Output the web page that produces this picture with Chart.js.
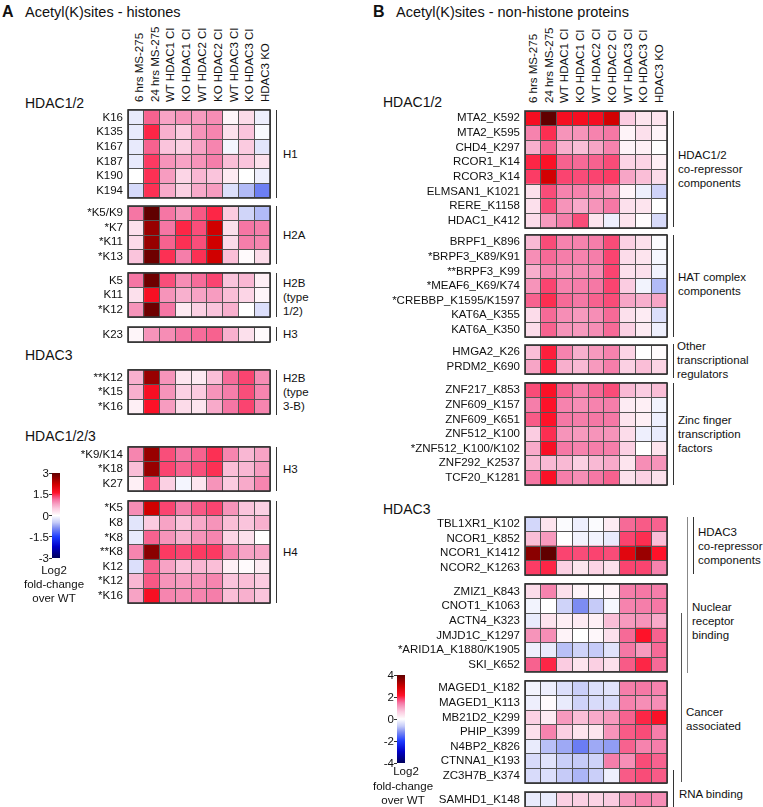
<!DOCTYPE html>
<html>
<head>
<meta charset="utf-8">
<script src="https://cdn.jsdelivr.net/npm/chart.js@4.4.0/dist/chart.umd.min.js"></script>
<style>
  body { margin: 0; background: #fff; }
  #page { position: relative; width: 763px; height: 807px; overflow: hidden;
          font-family: "Liberation Sans", Arial, Helvetica, sans-serif; color: #111; }
  #page canvas { position: absolute; }
  .t { position: absolute; white-space: nowrap; line-height: 14px; }
  .br { position: absolute; width: 0; border-left: 1.4px solid #333; }
</style>
</head>
<body>
<div id="page"></div>
<script>
// conditions (columns), same for both panels
const columns = ['6 hrs MS-275', '24 hrs MS-275', 'WT HDAC1 CI', 'KO HDAC1 CI', 'WT HDAC2 CI',
                 'KO HDAC2 CI', 'WT HDAC3 CI', 'KO HDAC3 CI', 'HDAC3 KO'];

// ---------- A: histones (log2 fold-change, scale -3..3) ----------
const h1Sites = ['K16', 'K135', 'K167', 'K187', 'K190', 'K194'];
const h1Values = [
  [-0.2, 1.2, 0.8, 0.9, 0.85, 0.95, 0.1, 0.35, -0.15],
  [-0.2, 1.5, 0.7, 0.5, 0.9, 1.0, 0.3, 0.55, -0.05],
  [-0.2, 1.2, 0.55, 0.45, 0.8, 1.0, -0.1, 0.5, -0.25],
  [-0.2, 1.4, 0.9, 0.8, 0.9, 1.05, 0.6, 0.55, 0.3],
  [0.0, 1.45, 0.85, 0.4, 0.65, 0.55, 0.2, 0.0, -0.15],
  [-0.35, 1.45, 0.75, 0.45, 0.75, 0.85, -0.3, -0.6, -1.0]
];
const h2aSites = ['*K5/K9', '*K7', '*K11', '*K13'];
const h2aValues = [
  [1.1, 3.0, 1.1, 0.9, 1.25, 1.5, 0.5, -0.4, -0.6],
  [0.3, 2.6, 1.1, 1.5, 1.3, 2.2, 0.3, 1.1, 1.05],
  [0.35, 2.6, 1.2, 1.45, 1.3, 2.2, 0.35, 1.05, 1.0],
  [0.55, 2.9, 1.45, 1.05, 1.45, 2.2, 0.6, 0.05, 0.35]
];
const h2bSites = ['K5', 'K11', '*K12'];
const h2bValues = [
  [1.1, 2.9, 1.3, 0.95, 1.15, 1.35, 0.55, 0.65, 0.15],
  [0.3, 1.7, 0.9, 0.7, 0.8, 0.85, 0.6, 0.4, 0.1],
  [0.9, 2.9, 1.1, 0.2, 0.45, 0.55, 0.7, 0.0, -0.3]
];
const h3aSites = ['K23'];
const h3aValues = [
  [0.1, 0.9, 0.95, 1.1, 1.15, 1.2, 0.7, 0.3, 0.05]
];
const h2b3Sites = ['**K12', '*K15', '*K16'];
const h2b3Values = [
  [0.7, 2.6, 0.9, 0.25, 0.2, 0.6, 1.15, 1.35, 0.95],
  [0.7, 1.7, 0.9, 0.45, 0.5, 0.9, 1.05, 1.3, 1.0],
  [0.15, 1.65, 0.85, 0.35, 0.25, 0.75, 1.1, 1.35, 1.0]
];
const h3bSites = ['*K9/K14', '*K18', 'K27'];
const h3bValues = [
  [1.0, 2.6, 1.3, 1.1, 1.2, 1.45, 1.0, 0.65, 0.8],
  [0.6, 2.6, 1.35, 1.2, 1.3, 1.45, 0.6, 0.65, 0.85],
  [0.15, 1.3, 0.45, -0.1, 0.25, 0.9, 0.5, 0.75, 1.0]
];
const h4Sites = ['*K5', 'K8', '*K8', '**K8', 'K12', '*K12', '*K16'];
const h4Values = [
  [0.95, 2.2, 1.35, 1.05, 1.25, 1.35, 0.9, 0.55, 0.45],
  [-0.25, 0.5, 0.8, 0.55, 0.75, 0.9, 0.6, 0.55, 0.7],
  [-0.2, 1.2, 0.9, 0.7, 0.9, 1.0, 0.4, 0.3, 0.0],
  [1.0, 2.7, 1.4, 1.35, 1.4, 1.4, 1.0, 0.8, 0.8],
  [-0.3, 1.2, 0.8, 0.55, 0.65, 0.6, 0.15, 0.05, 0.2],
  [0.65, 1.25, 0.9, 0.85, 0.9, 1.0, 0.55, 0.6, 0.5],
  [0.8, 1.7, 1.0, 0.95, 1.0, 1.05, 0.6, 0.7, 0.55]
];

// ---------- B: non-histone proteins (log2 fold-change, scale -4..4) ----------
const coRepSites = ['MTA2_K592', 'MTA2_K595', 'CHD4_K297', 'RCOR1_K14', 'RCOR3_K14',
                    'ELMSAN1_K1021', 'RERE_K1158', 'HDAC1_K412'];
const coRepValues = [
  [2.3, 4.0, 2.3, 2.3, 2.3, 2.9, 0.65, 0.35, 0.35],
  [1.35, 1.95, 1.2, 1.2, 1.35, 1.45, 0.15, 0.4, 0.15],
  [0.95, 1.6, 0.95, 0.8, 1.05, 1.35, 0.15, 0.2, 0.0],
  [2.0, 2.2, 1.6, 1.55, 1.6, 1.75, 0.55, 0.55, 0.2],
  [1.85, 2.9, 1.8, 1.75, 1.8, 1.85, 1.05, 0.8, 0.45],
  [0.4, 1.75, 1.35, 1.35, 1.2, 1.15, 0.15, -0.2, -0.55],
  [0.4, 1.75, 1.2, 1.0, 1.2, 1.45, 0.4, 0.35, 0.0],
  [0.45, 1.15, 1.4, 1.75, 0.35, -0.2, 0.35, 0.05, -0.45]
];
const hatSites = ['BRPF1_K896', '*BRPF3_K89/K91', '**BRPF3_K99', '*MEAF6_K69/K74',
                  '*CREBBP_K1595/K1597', 'KAT6A_K355', 'KAT6A_K350'];
const hatValues = [
  [0.85, 1.75, 1.35, 1.35, 1.4, 1.75, 0.6, 0.4, -0.05],
  [1.25, 1.55, 1.4, 1.35, 1.4, 1.8, 0.45, 0.35, -0.1],
  [0.95, 1.35, 1.2, 1.25, 1.25, 1.8, 0.4, 0.4, -0.15],
  [1.2, 1.8, 1.35, 1.4, 1.45, 1.8, 0.65, -0.15, -0.8],
  [1.6, 1.95, 1.55, 1.45, 1.6, 1.75, 1.05, 0.95, 1.05],
  [0.45, 1.55, 1.25, 1.15, 1.25, 1.55, 0.4, 0.25, -0.4],
  [0.45, 1.6, 1.2, 1.15, 1.25, 1.55, 0.6, 0.25, -0.2]
];
const otherSites = ['HMGA2_K26', 'PRDM2_K690'];
const otherValues = [
  [0.8, 2.05, 1.35, 0.95, 1.15, 1.35, 0.55, 0.0, 0.05],
  [1.05, 2.05, 0.95, 0.85, 1.15, 1.4, 0.6, 0.8, 0.55]
];
const zincSites = ['ZNF217_K853', 'ZNF609_K157', 'ZNF609_K651', 'ZNF512_K100',
                   '*ZNF512_K100/K102', 'ZNF292_K2537', 'TCF20_K1281'];
const zincValues = [
  [1.75, 2.2, 1.6, 1.35, 1.55, 1.75, 0.85, 0.65, 0.8],
  [1.4, 2.15, 1.35, 1.25, 1.35, 1.4, 0.25, 0.2, -0.15],
  [1.65, 2.15, 1.45, 1.4, 1.45, 1.45, 0.35, 0.2, -0.2],
  [0.65, 1.95, 1.2, 1.15, 1.2, 1.2, 0.45, -0.2, -0.25],
  [1.0, 2.25, 1.45, 1.35, 1.4, 1.4, 0.6, 0.0, 0.35],
  [0.85, 0.85, 0.85, 0.6, 0.85, 1.0, 0.35, 1.25, 1.2],
  [1.45, 2.2, 1.4, 1.25, 1.45, 1.6, 0.4, 0.6, 0.4]
];
const hdac3RepSites = ['TBL1XR1_K102', 'NCOR1_K852', 'NCOR1_K1412', 'NCOR2_K1263'];
const hdac3RepValues = [
  [-0.5, 0.35, -0.05, -0.2, -0.05, 0.25, 1.55, 1.65, 1.6],
  [0.8, 1.15, 0.0, -0.15, -0.15, -0.25, 1.8, 1.95, 0.8],
  [3.6, 4.0, 1.8, 1.75, 1.8, 1.75, 2.65, 3.45, 2.15],
  [1.85, 2.0, 0.6, 0.35, 0.55, 0.4, 1.8, 1.8, 1.35]
];
const nuclearSites = ['ZMIZ1_K843', 'CNOT1_K1063', 'ACTN4_K323', 'JMJD1C_K1297',
                      '*ARID1A_K1880/K1905', 'SKI_K652'];
const nuclearValues = [
  [0.45, 1.35, 0.4, 0.15, 0.05, 0.15, 1.4, 1.45, 1.4],
  [-0.15, 0.0, -0.55, -1.2, -0.65, -0.1, 1.35, 1.4, 1.45],
  [-0.25, 0.35, 0.2, 0.25, 0.2, 0.8, 1.15, 1.2, 1.0],
  [1.2, 1.25, 0.15, 0.0, 0.1, 0.4, 1.55, 2.15, 1.6],
  [-0.2, -0.25, -0.75, -0.55, -0.65, -0.35, 1.45, 1.15, 1.55],
  [1.6, 2.0, 0.65, 0.35, 0.6, 0.4, 1.65, 2.0, 1.55]
];
const cancerSites = ['MAGED1_K182', 'MAGED1_K113', 'MB21D2_K299', 'PHIP_K399',
                     'N4BP2_K826', 'CTNNA1_K193', 'ZC3H7B_K374'];
const cancerValues = [
  [-0.15, -0.2, -0.4, -0.6, -0.4, -0.35, 1.4, 1.45, 1.35],
  [-0.2, 0.05, -0.25, -0.55, -0.45, -0.45, 1.35, 1.25, 1.25],
  [0.6, 0.25, 1.15, 0.8, 1.0, 1.15, 1.6, 2.0, 2.2],
  [0.4, 1.35, 0.6, 0.35, 0.35, 1.2, 1.65, 1.75, 1.4],
  [-0.25, -0.75, -0.95, -1.35, -0.95, -1.05, 1.6, 1.35, 1.4],
  [-0.45, -0.35, -0.6, -0.65, -0.55, 1.4, 1.25, 1.75, 1.6],
  [-0.45, -0.4, -0.65, -0.85, -0.6, -0.2, 1.65, 1.75, 1.65]
];
const rnaSites = ['SAMHD1_K148'];
const rnaValues = [
  [-0.25, -0.25, 0.6, 0.6, 0.55, 0.65, 1.15, 1.35, 1.25]
];

const legendTicksA = [3, 1.5, 0, -1.5, -3];
const legendTicksB = [4, 2, 0, -2, -4];

// colour map, stops given on a -3..3 scale
const STOPS = [
  [-3, [0, 0, 90]], [-2.2, [0, 0, 200]], [-1.5, [30, 60, 255]], [-0.9, [125, 140, 242]],
  [-0.5, [196, 202, 248]], [-0.2, [232, 234, 252]], [0, [255, 255, 255]], [0.2, [253, 234, 242]],
  [0.5, [251, 203, 224]], [0.8, [247, 163, 197]], [1.1, [245, 118, 164]], [1.35, [250, 68, 112]],
  [1.6, [255, 18, 42]], [2.2, [208, 0, 0]], [3, [96, 0, 0]]
];
function heatColor(v, vmax) {
  const x = Math.max(-3, Math.min(3, v * 3 / vmax));
  for (let i = 1; i < STOPS.length; i++) {
    if (x <= STOPS[i][0]) {
      const [x0, c0] = STOPS[i - 1], [x1, c1] = STOPS[i];
      const f = (x - x0) / (x1 - x0);
      const c = c0.map((a, k) => Math.round(a + (c1[k] - a) * f));
      return `rgb(${c[0]},${c[1]},${c[2]})`;
    }
  }
  return 'rgb(96,0,0)';
}

const FONT = '"Liberation Sans", Arial, Helvetica, sans-serif';
Chart.defaults.font.family = FONT;
Chart.defaults.font.size = 11.5;
Chart.defaults.color = '#111';

const page = document.getElementById('page');
const ROW_H = 14.6;

// thicker outer frame round each block
const framePlugin = {
  id: 'frame',
  afterDraw(chart) {
    const { ctx, chartArea: a } = chart;
    ctx.save();
    ctx.strokeStyle = '#333';
    ctx.lineWidth = 1.6;
    ctx.strokeRect(a.left, a.top, a.right - a.left, a.bottom - a.top);
    ctx.restore();
  }
};

function heatmap(o) {
  const areaH = Math.round(o.sites.length * ROW_H);
  const cv = document.createElement('canvas');
  cv.width = o.right + 2 - o.left;
  cv.height = 1 + areaH + 2;
  cv.style.left = o.left + 'px';
  cv.style.top = (o.top - 1) + 'px';
  page.appendChild(cv);

  const datasets = columns.map((col, c) => ({
    label: col,
    data: o.values.map(() => [c, c + 1]),
    backgroundColor: o.values.map(row => heatColor(row[c], o.vmax)),
    borderWidth: 0,
    barPercentage: 1,
    categoryPercentage: 1,
    grouped: false
  }));

  const chart = new Chart(cv, {
    type: 'bar',
    data: { labels: o.sites, datasets },
    options: {
      indexAxis: 'y',
      responsive: false,
      animation: false,
      layout: { padding: { top: 1, right: 2, bottom: 2, left: 0 } },
      plugins: { legend: { display: false }, tooltip: { enabled: false } },
      scales: {
        x: {
          type: 'linear', min: 0, max: columns.length, position: 'bottom',
          ticks: { display: false, stepSize: 1 },
          grid: { color: '#555', z: 1, drawTicks: false },
          border: { display: false },
          afterFit(s) { s.height = 0; s.paddingLeft = 0; s.paddingRight = 0; }
        },
        y: {
          type: 'category', position: 'left', offset: true,
          ticks: { autoSkip: false, padding: 5, color: '#111' },
          grid: { color: '#555', z: 1, drawTicks: false, offset: true },
          border: { display: false },
          afterFit(s) { s.width = o.labelW; s.paddingTop = 0; s.paddingBottom = 0; }
        }
      }
    },
    plugins: [framePlugin]
  });

  // column headers, placed at the column centres of the x scale
  if (o.header) {
    const xs = chart.scales.x;
    columns.forEach((col, c) =>
      vtext(o.left + xs.getPixelForValue(c + 0.5) + (o.headShift || 0), o.top - 8, col));
  }
}

// helpers for plain text / bracket lines
function text(x, y, s, opt = {}) {
  const d = document.createElement('div');
  d.className = 't';
  d.textContent = s;
  d.style.fontSize = (opt.size || 11.5) + 'px';
  if (opt.bold) d.style.fontWeight = 'bold';
  d.style.top = (y - 7) + 'px';
  if (opt.align === 'right') d.style.right = (763 - x) + 'px';
  else if (opt.align === 'center') { d.style.left = (x - 60) + 'px'; d.style.width = '120px'; d.style.textAlign = 'center'; }
  else d.style.left = x + 'px';
  page.appendChild(d);
}
function vtext(x, yBottom, s) {
  const d = document.createElement('div');
  d.className = 't';
  d.textContent = s;
  d.style.fontSize = '11.5px';
  d.style.left = x + 'px';
  d.style.top = (yBottom - 7) + 'px';
  d.style.transformOrigin = '0 50%';
  d.style.transform = 'rotate(-90deg)';
  page.appendChild(d);
}
function bracket(x, y1, y2, color) {
  const d = document.createElement('div');
  d.className = 'br';
  d.style.left = x + 'px';
  d.style.top = y1 + 'px';
  d.style.height = (y2 - y1) + 'px';
  if (color) d.style.borderLeftColor = color;
  page.appendChild(d);
}
function lines(x, y, arr) { arr.forEach((s, i) => text(x, y + i * 14, s)); }

function colorbar(x, y1, y2, ticks, vmax) {
  const bar = document.createElement('div');
  const stops = STOPS.slice().reverse().map(([v, c]) =>
    `rgb(${c[0]},${c[1]},${c[2]}) ${((3 - v) / 6 * 100).toFixed(1)}%`).join(',');
  Object.assign(bar.style, { position: 'absolute', left: x + 'px', top: y1 + 'px', width: '8px',
    height: (y2 - y1) + 'px', background: `linear-gradient(to bottom, ${stops})` });
  page.appendChild(bar);
  ticks.forEach(v => {
    const y = y1 + (vmax - v) / (2 * vmax) * (y2 - y1);
    const tk = document.createElement('div');
    Object.assign(tk.style, { position: 'absolute', left: (x - 3) + 'px', top: (y - 0.5) + 'px',
      width: '3px', height: '1px', background: '#333' });
    page.appendChild(tk);
    text(x - 3, y, String(v), { align: 'right' });
  });
}

// ---------- panel A ----------
text(2, 12, 'A', { size: 16, bold: true });
text(25, 12, 'Acetyl(K)sites - histones', { size: 14.5 });
text(25, 103, 'HDAC1/2', { size: 14 });
text(25, 355, 'HDAC3', { size: 14 });
text(25, 436, 'HDAC1/2/3', { size: 14 });

const A = { left: 0, labelW: 128, right: 270, vmax: 3 };
heatmap({ ...A, top: 110, sites: h1Sites, values: h1Values, header: true, headShift: 3 });
heatmap({ ...A, top: 206, sites: h2aSites, values: h2aValues });
heatmap({ ...A, top: 273, sites: h2bSites, values: h2bValues });
heatmap({ ...A, top: 327, sites: h3aSites, values: h3aValues });
heatmap({ ...A, top: 370, sites: h2b3Sites, values: h2b3Values });
heatmap({ ...A, top: 447, sites: h3bSites, values: h3bValues });
heatmap({ ...A, top: 501, sites: h4Sites, values: h4Values });

bracket(276, 110, 198); text(283, 154, 'H1');
bracket(276, 206, 264); text(283, 235, 'H2A');
bracket(276, 273, 317); lines(283, 283, ['H2B', '(type', '1/2)']);
bracket(276, 327, 341); text(283, 334, 'H3');
bracket(276, 370, 415); lines(283, 378, ['H2B', '(type', '3-B)']);
bracket(276, 447, 491); text(283, 469, 'H3');
bracket(276, 501, 603); text(283, 552, 'H4');

colorbar(52, 473, 558, legendTicksA, 3);
text(54, 570, 'Log2', { align: 'center' });
text(54, 584, 'fold-change', { align: 'center' });
text(54, 598, 'over WT', { align: 'center' });

// ---------- panel B ----------
text(373, 12, 'B', { size: 16, bold: true });
text(396, 12, 'Acetyl(K)sites - non-histone proteins', { size: 14.5 });
text(383, 102, 'HDAC1/2', { size: 14 });
text(383, 509, 'HDAC3', { size: 14 });

const B = { left: 372, labelW: 153, right: 667, vmax: 4 };
heatmap({ ...B, top: 111, sites: coRepSites, values: coRepValues, header: true });
heatmap({ ...B, top: 235, sites: hatSites, values: hatValues });
heatmap({ ...B, top: 345, sites: otherSites, values: otherValues });
heatmap({ ...B, top: 383, sites: zincSites, values: zincValues });
heatmap({ ...B, top: 517, sites: hdac3RepSites, values: hdac3RepValues });
heatmap({ ...B, top: 584, sites: nuclearSites, values: nuclearValues });
heatmap({ ...B, top: 681, sites: cancerSites, values: cancerValues });
heatmap({ ...B, top: 792, sites: rnaSites, values: rnaValues });

bracket(673, 111, 227); lines(678, 155, ['HDAC1/2', 'co-repressor', 'components']);
bracket(673, 235, 337); lines(678, 277, ['HAT complex', 'components']);
bracket(673, 344, 378); lines(677, 346, ['Other', 'transcriptional', 'regulators']);
bracket(673, 383, 485); lines(678, 420, ['Zinc finger', 'transcription', 'factors']);
bracket(693, 517, 574); lines(698, 532, ['HDAC3', 'co-repressor', 'components']);
bracket(687, 517, 673, '#888'); lines(692, 607, ['Nuclear', 'receptor', 'binding']);
bracket(681, 613, 782, '#555'); lines(686, 712, ['Cancer', 'associated']);
bracket(673, 770, 807); text(679, 794, 'RNA binding');

colorbar(397, 675, 763, legendTicksB, 4);
text(406, 771, 'Log2', { align: 'center' });
text(403, 786, 'fold-change', { align: 'center' });
text(403, 800, 'over WT', { align: 'center' });
</script>
</body>
</html>
